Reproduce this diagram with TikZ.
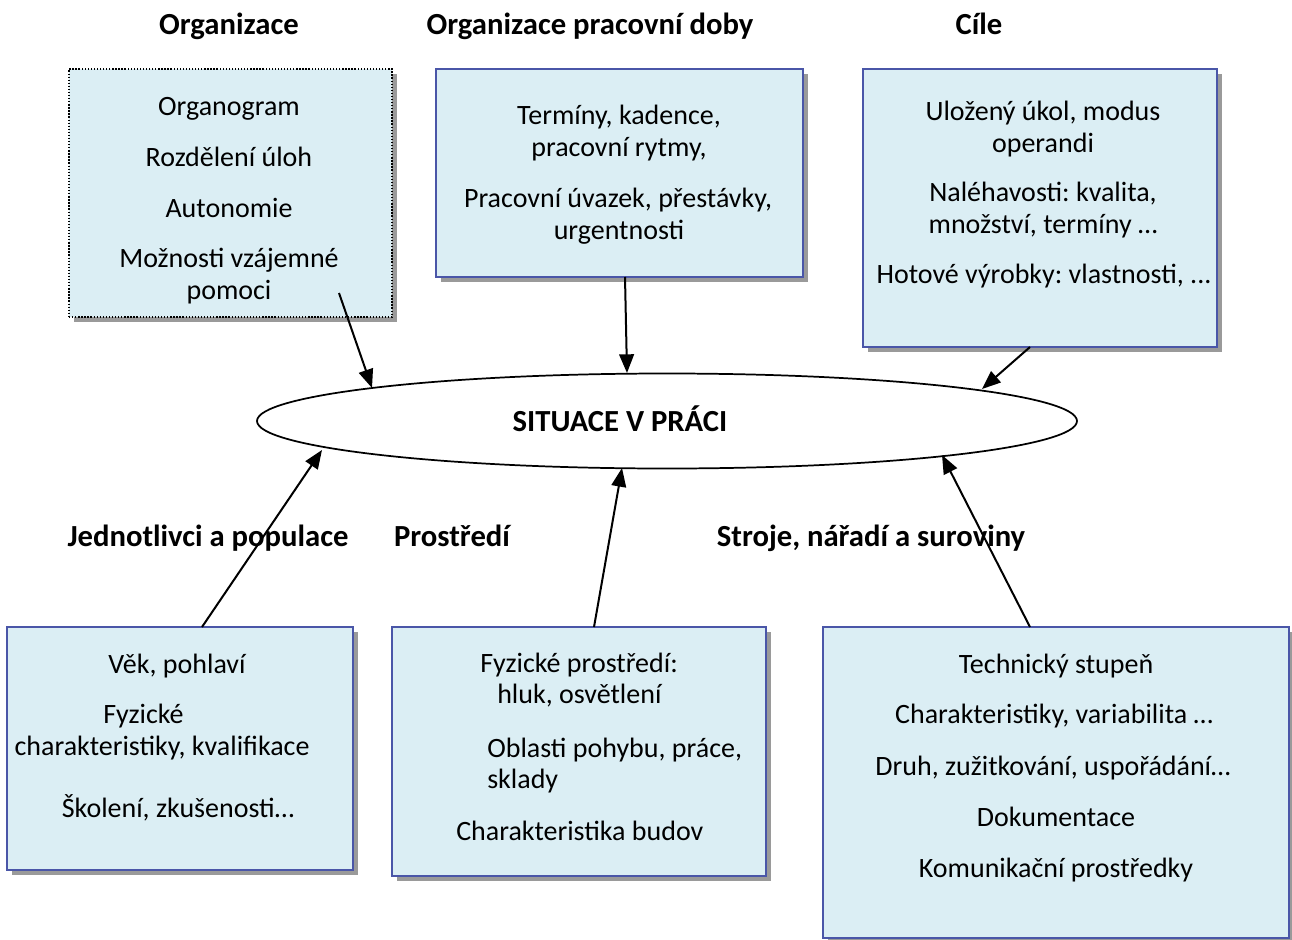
\documentclass[tikz,border=0pt]{standalone}
\usepackage{fontspec}
\setmainfont{Carlito}
\usetikzlibrary{shapes.geometric,shadows,arrows.meta}
\definecolor{boxfill}{HTML}{DBEEF4}
\definecolor{boxline}{HTML}{4A56A8}
\definecolor{shadowc}{HTML}{9A9A9A}
\frenchspacing
\begin{document}
\begin{tikzpicture}[x=0.75pt,y=-0.75pt,
  box/.style={rectangle, anchor=north west, draw=boxline, line width=0.9pt, fill=boxfill, inner sep=0pt, outer sep=0pt,
    drop shadow={shadow xshift=4pt, shadow yshift=-4pt, fill=shadowc, opacity=1}},
  dotbox/.style={box, draw=black, line width=1.1pt, dash pattern=on 1pt off 1.3pt},
  ln/.style={anchor=base, inner sep=0pt, font=\fontsize{21}{24}\selectfont},
  hd/.style={anchor=base, inner sep=0pt, font=\fontsize{23}{26}\selectfont\bfseries},
  arr/.style={line width=1.5pt, -{Triangle[length=14pt,width=11pt]}}
]
\useasboundingbox (0,0) rectangle (1292,939);

% headers
\node[hd] (h1) at (229,34) {Organizace};
\node[hd] (h2) at (590,34) {Organizace pracovní doby};
\node[hd] (h3) at (979,34) {Cíle};
\node[hd] (h4) at (208,546) {Jednotlivci a populace};
\node[hd] (h5) at (452,546) {Prostředí};
\node[hd] (h6) at (871,546) {Stroje, nářadí a suroviny};

% boxes
\node[dotbox, minimum width=242.25pt, minimum height=186pt] (org) at (69,69) {};
\node[box, minimum width=275.25pt, minimum height=156pt] (doby) at (436,69) {};
\node[box, minimum width=265.5pt, minimum height=208.5pt] (cile) at (863,69) {};
\node[box, minimum width=259.5pt, minimum height=182.25pt] (jedn) at (7,627) {};
\node[box, minimum width=280.5pt, minimum height=186.75pt] (prost) at (392,627) {};
\node[box, minimum width=349.5pt, minimum height=233.25pt] (stroje) at (823,627) {};

% ellipse
\node[ellipse, draw, line width=1.3pt, fill=white, minimum width=615pt, minimum height=71.25pt, inner sep=0pt] (sit) at (667,421) {};
\node[hd] (sittext) at (620,431) {SITUACE V PRÁCI};

% box texts
\node[ln] (o1) at (229,115) {Organogram};
\node[ln] (o2) at (229,166) {Rozdělení úloh};
\node[ln] (o3) at (229,217) {Autonomie};
\node[ln] (o4) at (229,267) {Možnosti vzájemné};
\node[ln] (o5) at (229,299) {pomoci};

\node[ln] (d1) at (619,124) {Termíny, kadence,};
\node[ln] (d2) at (619,156) {pracovní rytmy,};
\node[ln] (d3) at (618,207) {Pracovní úvazek, přestávky,};
\node[ln] (d4) at (619,239) {urgentnosti};

\node[ln] (c1) at (1043,120) {Uložený úkol, modus};
\node[ln] (c2) at (1043,152) {operandi};
\node[ln] (c3) at (1043,201) {Naléhavosti: kvalita,};
\node[ln] (c4) at (1043,233) {množství, termíny …};
\node[ln] (c5) at (1044,283) {Hotové výrobky: vlastnosti, ...};

\node[ln] (j1) at (177,673) {Věk, pohlaví};
\node[ln, anchor=base west] (j2) at (103,723) {Fyzické};
\node[ln] (j3) at (162,755) {charakteristiky, kvalifikace};
\node[ln] (j4) at (178,817) {Školení, zkušenosti…};

\node[ln, anchor=base west] (p1) at (480,672) {Fyzické prostředí:};
\node[ln, anchor=base west] (p2) at (497,703) {hluk, osvětlení};
\node[ln, anchor=base west] (p3) at (487,757) {Oblasti pohybu, práce,};
\node[ln, anchor=base west] (p4) at (487,788) {sklady};
\node[ln, anchor=base west] (p5) at (456,840) {Charakteristika budov};

\node[ln] (s1) at (1056,673) {Technický stupeň};
\node[ln] (s2) at (1054,723) {Charakteristiky, variabilita …};
\node[ln] (s3) at (1053,775) {Druh, zužitkování, uspořádání…};
\node[ln] (s4) at (1056,826) {Dokumentace};
\node[ln] (s5) at (1056,877) {Komunikační prostředky};

% arrow end points
\coordinate (a1s) at (339,293);  \coordinate (a1e) at (372,388);
\coordinate (a2s) at (625,277);  \coordinate (a2e) at (627,373);
\coordinate (a3s) at (1030,347); \coordinate (a3e) at (982,389);
\coordinate (a4s) at (202,627);  \coordinate (a4e) at (322,450);
\coordinate (a5s) at (594,627);  \coordinate (a5e) at (622,468);
\coordinate (a6s) at (1030,627); \coordinate (a6e) at (942,455);

\draw[arr] (a1s) -- (a1e);
\draw[arr] (a2s) -- (a2e);
\draw[arr] (a3s) -- (a3e);
\draw[arr] (a4s) -- (a4e);
\draw[arr] (a5s) -- (a5e);
\draw[arr] (a6s) -- (a6e);
\end{tikzpicture}
\end{document}
